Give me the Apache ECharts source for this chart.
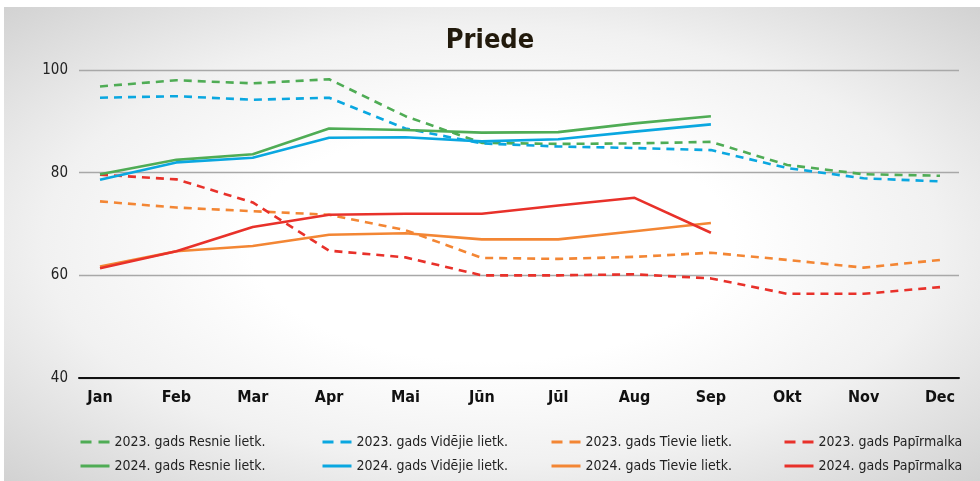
<!DOCTYPE html>
<html><head><meta charset="utf-8">
<script src="https://cdn.jsdelivr.net/npm/echarts@6/dist/echarts.min.js"></script>
<style>
html,body{margin:0;padding:0;background:#fff;}
#card{position:absolute;left:4px;top:7px;width:976px;height:474px;
background:radial-gradient(ellipse at 50% 50%, #ffffff 35%, #f1f1f1 65%, #d2d2d2 100%);}
#chart{position:absolute;left:0;top:0;width:980px;height:481px;}
</style></head>
<body><div id="card"></div><div id="chart"></div>
<script>
const months = ['Jan','Feb','Mar','Apr','Mai','Jūn','Jūl','Aug','Sep','Okt','Nov','Dec'];
const yTicks = {min:40, max:100, interval:20};
const resnie2023 = [96.8,98.0,97.4,98.2,91.0,85.8,85.6,85.7,86.0,81.5,79.7,79.4];
const videjie2023 = [94.6,94.9,94.2,94.6,88.6,85.7,85.1,84.8,84.4,80.9,78.9,78.3];
const tievie2023 = [74.4,73.2,72.5,71.8,68.8,63.4,63.2,63.6,64.4,63.0,61.5,63.0];
const papirmalka2023 = [79.6,78.7,74.2,64.8,63.5,60.0,60.0,60.2,59.4,56.4,56.4,57.7];
const resnie2024 = [79.7,82.5,83.6,88.6,88.3,87.8,87.9,89.6,91.0];
const videjie2024 = [78.6,82.0,82.9,86.8,86.9,86.1,86.5,88.0,89.4];
const tievie2024 = [61.7,64.7,65.7,67.9,68.2,67.0,67.0,68.6,70.2];
const papirmalka2024 = [61.4,64.7,69.4,71.8,72.0,72.0,73.6,75.1,68.3];

const C = {green:'#4fac55', blue:'#0aa7e0', orange:'#f38634', red:'#e8312a'};
const FN = '"Liberation Sans Narrow","DejaVu Sans Condensed",sans-serif';

function s(name, data, color, dashed){
  return {name, type:'line', data, xAxisIndex:1, yAxisIndex:1, symbol:'none',
    lineStyle:{color, width:2.6, type: dashed ? [8,6] : 'solid'}, itemStyle:{color},
    z: dashed ? 2 : 3};
}
const series = [
  s('2023. gads Resnie lietk.', resnie2023, C.green, true),
  s('2023. gads Vidējie lietk.', videjie2023, C.blue, true),
  s('2023. gads Tievie lietk.', tievie2023, C.orange, true),
  s('2023. gads Papīrmalka', papirmalka2023, C.red, true),
  s('2024. gads Resnie lietk.', resnie2024, C.green, false),
  s('2024. gads Vidējie lietk.', videjie2024, C.blue, false),
  s('2024. gads Tievie lietk.', tievie2024, C.orange, false),
  s('2024. gads Papīrmalka', papirmalka2024, C.red, false)
];
const legendCols = [74,316,545,778];
const legends = legendCols.map((x,i)=>({
  orient:'vertical', left:x, top:430, itemWidth:29, itemHeight:14, itemGap:10,
  itemStyle:{opacity:0},
  data:[
    {name:series[i].name, lineStyle:{type:[11,7], width:3}},
    {name:series[i+4].name, lineStyle:{width:3}}
  ],
  textStyle:{fontFamily:FN, fontSize:14, color:'#222'}
}));

const chart = echarts.init(document.getElementById('chart'));
chart.setOption({
  backgroundColor:'transparent',
  animation:false,
  title:{text:'Priede', left:'center', top:22,
    textStyle:{fontFamily:FN, fontSize:27, fontWeight:'bold', color:'#221a0c'}},
  legend: legends,
  grid:[
    {left:79, right:21, top:70, bottom:103},
    {left:100, right:40, top:70, bottom:103}
  ],
  xAxis:[
    {type:'category', gridIndex:0, data:months, boundaryGap:true,
      axisLine:{show:true, lineStyle:{color:'#111', width:2}},
      axisTick:{show:false}, axisLabel:{show:false}, splitLine:{show:false}},
    {type:'category', gridIndex:1, data:months, boundaryGap:false,
      axisLine:{show:false}, axisTick:{show:false}, splitLine:{show:false},
      axisLabel:{margin:12, fontFamily:FN, fontSize:16, fontWeight:'bold', color:'#111'}}
  ],
  yAxis:[
    {type:'value', gridIndex:0, min:yTicks.min, max:yTicks.max, interval:yTicks.interval,
      axisLine:{show:false}, axisTick:{show:false},
      axisLabel:{margin:11, fontFamily:FN, fontSize:15, color:'#222'},
      splitLine:{lineStyle:{color:'#a8a8a8', width:1.3}}},
    {type:'value', gridIndex:1, min:yTicks.min, max:yTicks.max, interval:yTicks.interval,
      show:false, splitLine:{show:false}}
  ],
  series
});
</script></body></html>
